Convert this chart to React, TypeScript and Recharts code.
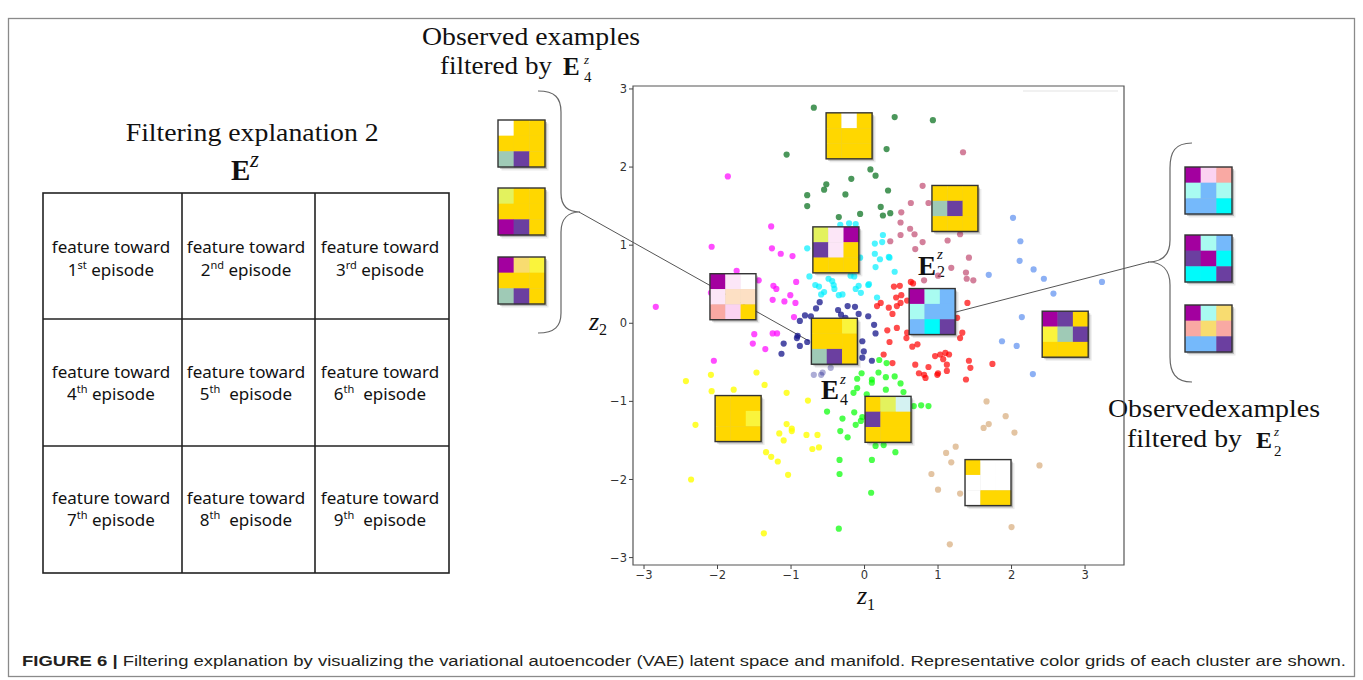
import { ScatterChart, Scatter, XAxis, YAxis, ReferenceArea } from "recharts";

// colours of the 3x3 grid cells
const G = "#ffd700", W = "#ffffff", P = "#6b3fa0", M = "#a3009f", T = "#9fcab6",
  LY = "#e3f25e", Y = "#faf43c", PW = "#fce6f7", PE = "#fde0c4", SA = "#f9a9a3",
  LP = "#fbd3f1", LC = "#a9fbf1", LB = "#75b9fb", C = "#00fbfb", PC = "#d4f2f2", LG = "#f8dc70";

const X_TICKS = [-3, -2, -1, 0, 1, 2, 3];
const Y_TICKS = [-3, -2, -1, 0, 1, 2, 3];

type Pt = [number, number];

// latent points per cluster (z1, z2)
const darkGreen: Pt[] = [[-0.69, 2.76], [-1.06, 2.16], [-0.78, 1.64], [-0.78, 1.5], [-0.55, 1.71], [-0.52, 1.78], [-0.26, 1.65], [-0.18, 1.85], [-0.35, 1.36], [-0.06, 1.4], [0.08, 1.97], [0.41, 2.64], [0.93, 2.6], [0.3, 2.23], [0.15, 1.89], [0.32, 1.7], [0.22, 1.49], [0.25, 1.38], [0.35, 1.41]];
const rosy: Pt[] = [[1.34, 2.19], [0.79, 1.76], [0.63, 1.54], [0.87, 1.54], [0.5, 1.42], [0.49, 1.29], [0.62, 1.21], [0.68, 1.14], [0.49, 1.13], [0.35, 1.05], [0.79, 1.04], [1.13, 1.06], [1.3, 1.14], [0.69, 0.95], [1.42, 0.84], [1.18, 0.71], [1.38, 0.65], [1.39, 0.57], [1.48, 0.55], [1.0, 0.61], [0.81, 0.55]];
const cyan: Pt[] = [[-0.33, 1.26], [-0.21, 1.28], [-0.12, 1.27], [0.25, 1.13], [0.24, 1.04], [0.14, 0.89], [0.21, 0.82], [0.34, 0.84], [0.15, 0.72], [0.41, 0.66], [-0.78, 0.96], [-0.75, 0.6], [-0.67, 0.49], [-0.62, 0.47], [-0.59, 0.37], [-0.55, 0.4], [-0.49, 0.57], [-0.44, 0.54], [-0.42, 0.49], [-0.41, 0.44], [-0.35, 0.36], [-0.3, 0.37], [-0.19, 0.61], [-0.14, 0.6], [-0.08, 0.48], [-0.05, 0.39], [0.05, 0.49], [-0.06, 0.84], [0.17, 0.33], [0.06, 0.5], [-0.12, 0.44], [0.14, 1.02], [0.33, 0.85]];
const magenta: Pt[] = [[-1.86, 1.88], [-1.27, 1.24], [-2.08, 0.98], [-1.26, 0.96], [-1.14, 0.89], [-0.98, 0.86], [-1.74, 0.67], [-1.44, 0.55], [-1.24, 0.48], [-1.2, 0.44], [-0.93, 0.53], [-1.01, 0.36], [-1.25, 0.3], [-1.09, 0.28], [-0.94, 0.26], [-2.84, 0.21], [-0.96, 0.08], [-2.09, 0.39], [-1.5, -0.14], [-1.25, -0.13], [-1.19, -0.13], [-1.52, -0.26], [-1.35, -0.33], [-2.05, -0.48]];
const navy: Pt[] = [[-0.88, 0.03], [-0.81, 0.1], [-0.73, 0.09], [-0.66, 0.19], [-0.61, 0.27], [-0.36, 0.17], [-0.32, 0.11], [-0.23, 0.22], [-0.13, 0.21], [-0.08, 0.12], [0.05, 0.09], [-0.26, 0.07], [0.13, -0.02], [0.15, -0.13], [-0.91, -0.16], [-0.92, -0.19], [-1.1, -0.26], [-0.88, -0.29], [-1.13, -0.39], [-0.78, -0.24], [-0.03, -0.44], [-0.03, -0.23], [-0.01, -0.36], [0.1, -0.48]];
const navyPale: Pt[] = [[-0.69, -0.66], [-0.59, -0.66], [-0.46, -0.57], [-0.57, -0.63]];
const red: Pt[] = [[0.4, 0.47], [0.48, 0.48], [0.43, 0.33], [0.49, 0.26], [0.58, 0.29], [0.22, 0.26], [0.17, 0.22], [0.33, 0.2], [0.38, 0.12], [0.44, -0.06], [0.58, -0.12], [0.57, -0.19], [0.65, -0.3], [0.72, -0.27], [0.31, -0.09], [0.26, -0.4], [0.38, -0.51], [0.69, -0.53], [0.96, -0.42], [1.03, -0.4], [1.1, -0.38], [1.15, -0.4], [1.07, -0.46], [1.12, -0.53], [1.3, -0.19], [1.4, 0.26], [1.26, 0.07], [1.33, -0.12], [1.42, -0.48], [1.44, -0.57], [0.99, -0.66], [1.12, -0.61], [0.81, -0.66], [0.83, -0.7], [0.34, -0.24], [0.74, -0.64], [0.87, -0.56], [1.0, -0.64], [1.38, -0.72], [1.74, -0.52], [0.44, 0.22], [0.5, 0.36], [0.63, 0.53], [0.66, 0.51]];
const cornflower: Pt[] = [[2.02, 1.35], [2.12, 1.05], [2.11, 0.8], [2.3, 0.69], [2.44, 0.57], [1.69, 0.62], [3.23, 0.53], [2.57, 0.38], [2.14, 0.08], [1.87, -0.23], [2.07, -0.29], [2.29, -0.65]];
const yellow: Pt[] = [[-2.43, -0.74], [-2.09, -0.66], [-2.08, -0.87], [-1.78, -0.85], [-1.47, -0.63], [-1.36, -0.79], [-2.3, -1.3], [-1.06, -0.89], [-0.77, -0.99], [-1.06, -1.29], [-0.99, -1.35], [-0.99, -1.38], [-1.16, -1.41], [-1.1, -1.5], [-1.34, -1.65], [-1.27, -1.71], [-1.18, -1.77], [-1.04, -1.94], [-0.79, -1.43], [-0.64, -1.43], [-0.71, -1.61], [-0.62, -1.59], [-2.36, -2.0], [-1.37, -2.69]];
const lime: Pt[] = [[0.2, -0.47], [0.3, -0.51], [0.19, -0.63], [0.29, -0.69], [0.41, -0.68], [0.49, -0.77], [0.29, -0.85], [0.53, -0.88], [0.1, -0.72], [0.1, -0.76], [-0.1, -0.71], [-0.04, -0.64], [-0.15, -0.89], [-0.1, -0.83], [0.03, -0.91], [-0.51, -1.13], [-0.3, -1.22], [-0.33, -1.38], [-0.23, -1.46], [-0.14, -1.14], [-0.12, -1.3], [-0.05, -1.25], [-0.03, -1.2], [0.15, -1.57], [0.26, -1.56], [0.42, -1.65], [-0.34, -1.75], [-0.34, -1.93], [0.1, -1.75], [0.09, -2.17], [-0.35, -2.63], [0.67, -1.06], [0.77, -1.05], [0.87, -1.06]];
const tan: Pt[] = [[1.66, -1.0], [1.92, -1.19], [1.69, -1.29], [1.62, -1.34], [2.04, -1.4], [1.24, -1.58], [1.11, -1.66], [1.18, -1.78], [0.91, -1.93], [1.0, -2.13], [1.3, -2.18], [2.38, -1.82], [2.0, -2.61], [1.16, -2.83]];

// representative colour grids placed in the latent space (centre z1, z2)
const plotGrids = [
  { x: -0.21, y: 2.4, cells: [G, W, G, G, G, G, G, G, G] },
  { x: 1.23, y: 1.47, cells: [G, G, G, T, P, G, G, G, G] },
  { x: -0.39, y: 0.94, cells: [LY, PW, M, P, PW, G, G, G, G] },
  { x: -1.79, y: 0.34, cells: [M, PW, W, PW, PE, PE, SA, LP, G] },
  { x: -0.41, y: -0.23, cells: [G, G, Y, G, G, G, T, P, G] },
  { x: 0.92, y: 0.15, cells: [M, LC, LB, LC, LB, LB, LB, C, P] },
  { x: 2.73, y: -0.14, cells: [M, P, G, Y, T, P, G, G, G] },
  { x: -1.72, y: -1.22, cells: [G, G, G, G, G, Y, G, G, G] },
  { x: 0.32, y: -1.23, cells: [G, LY, PC, P, G, G, G, G, G] },
  { x: 1.68, y: -2.04, cells: [G, W, W, W, W, W, W, G, G] },
];

// observed examples beside the plot
const leftExamples = [[W, G, G, G, G, G, T, P, G], [LY, G, G, G, G, G, M, P, G], [M, LG, Y, G, G, G, T, P, G]];
const rightExamples = [[M, LP, SA, LC, LB, LC, LB, LB, C], [M, LC, LB, P, M, C, C, C, P], [M, LC, LG, SA, LG, SA, LB, LB, P]];

const ORDINALS = ["st", "nd", "rd", "th", "th", "th", "th", "th", "th"];

const CLUSTERS = [
  { pts: darkGreen, color: "#1e7d32", alpha: 0.8 },
  { pts: rosy, color: "#c4567a", alpha: 0.75 },
  { pts: cyan, color: "#00f0ff", alpha: 0.7 },
  { pts: magenta, color: "#ff00ff", alpha: 0.7 },
  { pts: navy, color: "#14148a", alpha: 0.75 },
  { pts: navyPale, color: "#14148a", alpha: 0.35 },
  { pts: red, color: "#ff0000", alpha: 0.7 },
  { pts: cornflower, color: "#5b8ff0", alpha: 0.7 },
  { pts: yellow, color: "#ffff00", alpha: 0.8 },
  { pts: lime, color: "#00ff00", alpha: 0.7 },
  { pts: tan, color: "#d9b083", alpha: 0.75 },
];

const SERIF = "'Liberation Serif', 'DejaVu Serif', serif";
const SANS = "'Noto Sans', 'Open Sans', sans-serif";

function Grid({ x, y, s, cells }: { x: number; y: number; s: number; cells: string[] }) {
  const c = s / 3;
  return (
    <g>
      <rect x={x + 3.5} y={y + 3.5} width={s} height={s} fill="#000" opacity={0.08} />
      <rect x={x + 2} y={y + 2} width={s} height={s} fill="#000" opacity={0.2} />
      {cells.map((col, i) => (
        <rect key={i} x={x + (i % 3) * c} y={y + Math.floor(i / 3) * c} width={c + 0.3} height={c + 0.3} fill={col} />
      ))}
      <rect x={x} y={y} width={s} height={s} fill="none" stroke="#333" strokeWidth={1.4} />
    </g>
  );
}

// bold E with z superscript and optional subscript, all in one text
function BoldE({ x, y, size, zx, zy, zs, sub, sy, ss }: any) {
  return (
    <text fill="#111" fontFamily={SERIF}>
      <tspan x={x} y={y} fontSize={size} fontWeight="bold">E</tspan>
      <tspan x={zx} y={zy} fontSize={zs} fontStyle="italic">z</tspan>
      {sub && <tspan x={zx} y={sy} fontSize={ss}>{sub}</tspan>}
    </text>
  );
}

const fmt = (v: number) => (v < 0 ? "\u2212" + Math.abs(v) : String(v));

function Overlay() {
  const cols = [43, 182, 315, 449];
  const rows = [193, 319, 446, 573];
  const colCx = [111, 246, 380];
  const line1 = [253, 378, 504];
  const line2 = [276, 400, 526];
  return (
    <svg width={1363} height={680} style={{ position: "absolute", left: 0, top: 0 }}>
      <rect x={8.5} y={18.5} width={1346} height={658} fill="none" stroke="#8a8a8a" strokeWidth={1.3} />

      {/* filtering explanation table */}
      <text x={125.7} y={141} fontFamily={SERIF} fontSize={25} textLength={253} lengthAdjust="spacingAndGlyphs" fill="#111">Filtering explanation 2</text>
      <BoldE x={231} y={179.5} size={29} zx={250} zy={167} zs={23} />
      <g stroke="#222" strokeWidth={1.6}>
        <rect x={cols[0]} y={rows[0]} width={cols[3] - cols[0]} height={rows[3] - rows[0]} fill="none" />
        <line x1={cols[1]} y1={rows[0]} x2={cols[1]} y2={rows[3]} />
        <line x1={cols[2]} y1={rows[0]} x2={cols[2]} y2={rows[3]} />
        <line x1={cols[0]} y1={rows[1]} x2={cols[3]} y2={rows[1]} />
        <line x1={cols[0]} y1={rows[2]} x2={cols[3]} y2={rows[2]} />
      </g>
      {ORDINALS.map((o, i) => {
        const r = Math.floor(i / 3), c = i % 3;
        return (
          <g key={i} fontFamily={SANS} fill="#111" textAnchor="middle">
            <text x={colCx[c]} y={line1[r]} fontSize={17}>feature toward</text>
            <text x={colCx[c]} y={line2[r]} fontSize={17}>
              <tspan>{i + 1}</tspan>
              <tspan dy={-7} fontSize={11}>{o}</tspan>
              <tspan dy={7}>{i > 3 && i !== 6 ? "\u00a0\u00a0episode" : " episode"}</tspan>
            </text>
          </g>
        );
      })}

      {/* left examples */}
      <text x={422} y={45} fontFamily={SERIF} fontSize={25} textLength={218} lengthAdjust="spacingAndGlyphs" fill="#111">Observed examples</text>
      <text x={440} y={73.5} fontFamily={SERIF} fontSize={25} textLength={112} lengthAdjust="spacingAndGlyphs" fill="#111">filtered by</text>
      <BoldE x={563} y={74.5} size={25} zx={584} zy={64} zs={13} sub="4" sy={82} ss={15} />
      {leftExamples.map((cells, i) => <Grid key={i} x={498} y={[120, 188, 257][i]} s={47} cells={cells} />)}
      <path d="M538,91 C555,91 561,98 561,112 L561,193 C561,206 568,212 580,212 C568,212 561,219 561,232 L561,313 C561,326 555,333 538,333" fill="none" stroke="#666" strokeWidth={1.2} />
      <line x1={579} y1={212} x2={809} y2={341} stroke="#555" strokeWidth={1} />

      {/* right examples */}
      {rightExamples.map((cells, i) => <Grid key={i} x={1185} y={[167, 235, 305][i]} s={47} cells={cells} />)}
      <path d="M1192,143 C1175,143 1170,152 1170,168 L1170,240 C1170,255 1162,262 1148,262 C1162,262 1170,270 1170,285 L1170,357 C1170,372 1175,382 1192,382" fill="none" stroke="#666" strokeWidth={1.2} />
      <line x1={956} y1={312} x2={1149} y2={262} stroke="#555" strokeWidth={1} />
      <text x={1108} y={416.7} fontFamily={SERIF} fontSize={25} textLength={212} lengthAdjust="spacingAndGlyphs" fill="#111">Observedexamples</text>
      <text x={1127} y={446.7} fontFamily={SERIF} fontSize={25} textLength={115} lengthAdjust="spacingAndGlyphs" fill="#111">filtered by</text>
      <BoldE x={1256} y={448} size={24} zx={1274} zy={436} zs={13} sub="2" sy={456} ss={15} />

      {/* labels in the latent space */}
      <BoldE x={918} y={275} size={27} zx={937} zy={259} zs={15} sub="2" sy={277} ss={16} />
      <BoldE x={821} y={399} size={27} zx={840} zy={384} zs={15} sub="4" sy={405} ss={16} />
      <line x1={1023} y1={91} x2={1118} y2={91} stroke="#e4e4e4" strokeWidth={1.2} />

      {/* axis titles */}
      <text fontFamily={SERIF} fill="#111">
        <tspan x={589} y={330} fontStyle="italic" fontSize={26}>z</tspan>
        <tspan x={599} y={335} fontSize={16}>2</tspan>
      </text>
      <text fontFamily={SERIF} fill="#111">
        <tspan x={857} y={604} fontStyle="italic" fontSize={26}>z</tspan>
        <tspan x={867} y={610} fontSize={16}>1</tspan>
      </text>

      <text x={22} y={666} fontFamily="'Liberation Sans', Arial, sans-serif" fontSize={15.5} fill="#231f20" textLength={1324} lengthAdjust="spacingAndGlyphs">
        <tspan fontWeight="bold">FIGURE 6 | </tspan>
        <tspan>Filtering explanation by visualizing the variational autoencoder (VAE) latent space and manifold. Representative color grids of each cluster are shown.</tspan>
      </text>
    </svg>
  );
}

export default function App() {
  return (
    <div style={{ position: "absolute", left: 0, top: 0, width: 1363, height: 680, background: "#fff" }}>
      <Overlay />
      <div style={{ position: "absolute", left: 0, top: 0 }}>
        <ScatterChart width={1363} height={680} margin={{ top: 86, right: 239, bottom: 85, left: 603 }}>
          <XAxis type="number" dataKey="x" domain={[-3.15, 3.53]} ticks={X_TICKS} tickFormatter={fmt} allowDataOverflow
            height={30} axisLine={false} tickSize={4} tickLine={{ stroke: "#444" }}
            tick={{ fontSize: 11.5, fill: "#333", fontFamily: "'DejaVu Sans', sans-serif" }} />
          <YAxis type="number" dataKey="y" domain={[-3.095, 3.038]} ticks={Y_TICKS} tickFormatter={fmt} allowDataOverflow
            width={30} axisLine={false} tickSize={4} tickLine={{ stroke: "#444" }}
            tick={{ fontSize: 11.5, fill: "#333", fontFamily: "'DejaVu Sans', sans-serif" }} />
          <ReferenceArea x1={-3.15} x2={3.53} y1={-3.095} y2={3.038} fill="none" stroke="#555" strokeWidth={1.2} />
          {CLUSTERS.map((cl, k) => (
            <Scatter key={k} data={cl.pts.map(([x, y]) => ({ x, y }))} isAnimationActive={false}
              shape={(p: any) => <circle cx={p.cx} cy={p.cy} r={3.1} fill={cl.color} fillOpacity={cl.alpha} />} />
          ))}
          <Scatter data={plotGrids} isAnimationActive={false}
            shape={(p: any) => <Grid x={p.cx - 23} y={p.cy - 23} s={46} cells={p.payload.cells} />} />
        </ScatterChart>
      </div>
    </div>
  );
}
